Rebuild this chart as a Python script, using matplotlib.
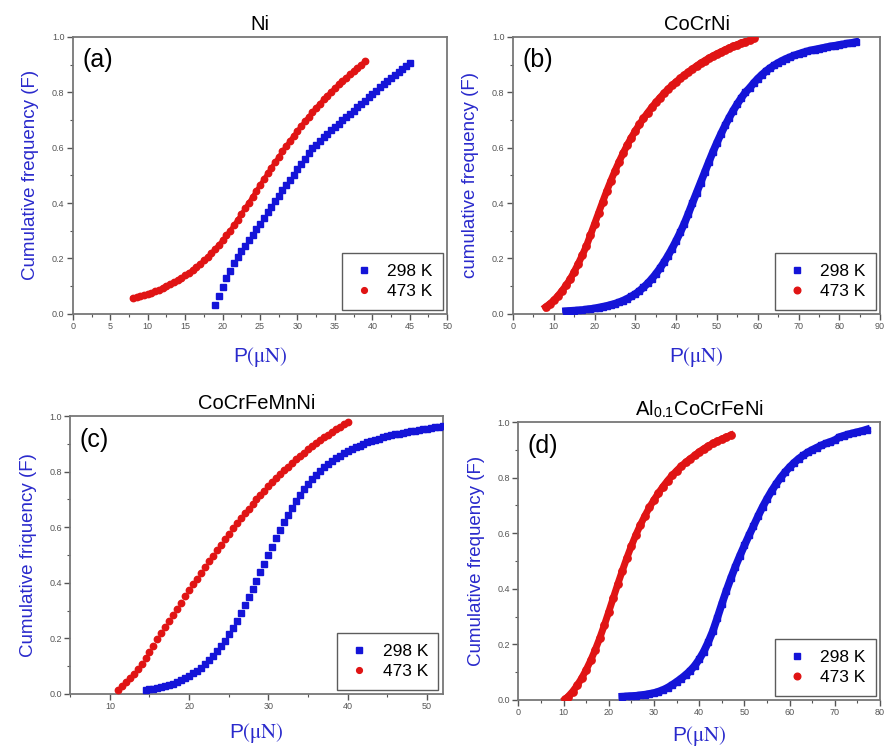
import matplotlib.pyplot as plt
from matplotlib.ticker import MultipleLocator

plt.rcParams['font.family'] = ['Liberation Sans', 'DejaVu Sans']
plt.rcParams['mathtext.fontset'] = 'stix'

# (a) Ni
a_x_298 = [19.0, 19.5, 20.0, 20.5, 21.0, 21.5, 22.0, 22.5, 23.0, 23.5, 24.0, 24.5, 25.0, 25.5,
           26.0, 26.5, 27.0, 27.5, 28.0, 28.5, 29.0, 29.5, 30.0, 30.5, 31.0, 31.5, 32.0, 32.5,
           33.0, 33.5, 34.0, 34.5, 35.0, 35.5, 36.0, 36.5, 37.0, 37.5, 38.0, 38.5, 39.0, 39.5,
           40.0, 40.5, 41.0, 41.5, 42.0, 42.5, 43.0, 43.5, 44.0, 44.5, 45.0]
a_f_298 = [0.032, 0.066, 0.098, 0.128, 0.156, 0.182, 0.206, 0.226, 0.246, 0.266, 0.286, 0.306, 0.326, 0.346,
           0.366, 0.386, 0.406, 0.427, 0.446, 0.465, 0.484, 0.503, 0.522, 0.541, 0.560, 0.579, 0.598, 0.611,
           0.624, 0.637, 0.650, 0.662, 0.674, 0.686, 0.698, 0.710, 0.722, 0.734, 0.746, 0.758, 0.770, 0.782,
           0.794, 0.806, 0.818, 0.829, 0.840, 0.851, 0.862, 0.873, 0.884, 0.895, 0.906]
a_x_473 = [8.0, 8.5, 9.0, 9.5, 10.0, 10.5, 11.0, 11.5, 12.0, 12.5, 13.0, 13.5, 14.0, 14.5, 15.0, 15.5,
           16.0, 16.5, 17.0, 17.5, 18.0, 18.5, 19.0, 19.5, 20.0, 20.5, 21.0, 21.5, 22.0, 22.5, 23.0, 23.5,
           24.0, 24.5, 25.0, 25.5, 26.0, 26.5, 27.0, 27.5, 28.0, 28.5, 29.0, 29.5, 30.0, 30.5, 31.0, 31.5,
           32.0, 32.5, 33.0, 33.5, 34.0, 34.5, 35.0, 35.5, 36.0, 36.5, 37.0, 37.5, 38.0, 38.5, 39.0]
a_f_473 = [0.058, 0.061, 0.064, 0.068, 0.072, 0.077, 0.082, 0.088, 0.094, 0.100, 0.107, 0.114, 0.122, 0.130, 0.139, 0.149,
           0.159, 0.170, 0.181, 0.193, 0.206, 0.220, 0.235, 0.250, 0.266, 0.283, 0.301, 0.320, 0.340, 0.360, 0.381, 0.402,
           0.423, 0.444, 0.465, 0.486, 0.507, 0.527, 0.547, 0.567, 0.587, 0.606, 0.625, 0.643, 0.661, 0.678, 0.695, 0.712,
           0.728, 0.744, 0.759, 0.774, 0.788, 0.802, 0.815, 0.828, 0.840, 0.852, 0.864, 0.875, 0.886, 0.898, 0.912]

# (b) CoCrNi
b_x_298 = [13, 14, 15, 16, 17, 18, 19, 20, 21, 22, 23, 24, 25, 26, 27, 28, 29, 30, 31, 32, 33, 34, 35, 36,
           37, 38, 39, 40, 41, 42, 43, 44, 45, 46, 47, 48, 49, 50, 51, 52, 53, 54, 55, 56, 57, 58, 59, 60,
           61, 62, 63, 64, 65, 66, 67, 68, 69, 70, 71, 72, 73, 74, 75, 76, 77, 78, 79, 80, 81, 82, 83, 84]
b_f_298 = [0.010, 0.011, 0.012, 0.013, 0.014, 0.016, 0.018, 0.020, 0.023, 0.026, 0.029, 0.033, 0.037, 0.042,
           0.048, 0.055, 0.063, 0.072, 0.083, 0.096, 0.110, 0.126, 0.144, 0.164, 0.186, 0.210, 0.236, 0.264,
           0.294, 0.326, 0.362, 0.400, 0.437, 0.474, 0.511, 0.548, 0.584, 0.618, 0.650, 0.680, 0.708, 0.734,
           0.758, 0.780, 0.800, 0.815, 0.833, 0.849, 0.863, 0.876, 0.887, 0.897, 0.906, 0.914, 0.921, 0.927,
           0.933, 0.938, 0.943, 0.947, 0.951, 0.954, 0.957, 0.960, 0.963, 0.966, 0.968, 0.971, 0.973, 0.976,
           0.978, 0.981]
b_x_473 = [8, 9, 10, 11, 12, 13, 14, 15, 16, 17, 18, 19, 20, 21, 22, 23, 24, 25, 26, 27, 28, 29, 30, 31,
           32, 33, 34, 35, 36, 37, 38, 39, 40, 41, 42, 43, 44, 45, 46, 47, 48, 49, 50, 51, 52, 53, 54, 55,
           56, 57, 58, 59]
b_f_473 = [0.025, 0.036, 0.049, 0.065, 0.083, 0.103, 0.125, 0.152, 0.181, 0.212, 0.245, 0.285, 0.325, 0.365,
           0.405, 0.444, 0.481, 0.516, 0.549, 0.580, 0.609, 0.636, 0.661, 0.684, 0.706, 0.726, 0.745, 0.763,
           0.780, 0.796, 0.811, 0.825, 0.838, 0.850, 0.862, 0.873, 0.884, 0.895, 0.905, 0.914, 0.923, 0.931,
           0.939, 0.946, 0.953, 0.960, 0.966, 0.972, 0.978, 0.983, 0.989, 0.994]

# (c) CoCrFeMnNi
c_x_298 = [14.5, 15.0, 15.5, 16.0, 16.5, 17.0, 17.5, 18.0, 18.5, 19.0, 19.5, 20.0, 20.5, 21.0, 21.5, 22.0,
           22.5, 23.0, 23.5, 24.0, 24.5, 25.0, 25.5, 26.0, 26.5, 27.0, 27.5, 28.0, 28.5, 29.0, 29.5, 30.0,
           30.5, 31.0, 31.5, 32.0, 32.5, 33.0, 33.5, 34.0, 34.5, 35.0, 35.5, 36.0, 36.5, 37.0, 37.5, 38.0,
           38.5, 39.0, 39.5, 40.0, 40.5, 41.0, 41.5, 42.0, 42.5, 43.0, 43.5, 44.0, 44.5, 45.0, 45.5, 46.0,
           46.5, 47.0, 47.5, 48.0, 48.5, 49.0, 49.5, 50.0, 50.5, 51.0, 51.5, 52.0]
c_f_298 = [0.015, 0.017, 0.019, 0.021, 0.024, 0.027, 0.031, 0.036, 0.042, 0.049, 0.057, 0.065, 0.074, 0.084, 0.095, 0.107,
           0.121, 0.136, 0.153, 0.172, 0.192, 0.214, 0.238, 0.264, 0.291, 0.319, 0.348, 0.378, 0.408, 0.438, 0.469, 0.500,
           0.530, 0.560, 0.589, 0.617, 0.644, 0.670, 0.694, 0.716, 0.736, 0.755, 0.772, 0.788, 0.802, 0.815, 0.827, 0.838,
           0.848, 0.857, 0.866, 0.874, 0.881, 0.888, 0.894, 0.900, 0.905, 0.910, 0.915, 0.919, 0.923, 0.927, 0.931, 0.934,
           0.937, 0.940, 0.943, 0.946, 0.948, 0.951, 0.953, 0.955, 0.957, 0.959, 0.961, 0.963]
c_x_473 = [11.0, 11.5, 12.0, 12.5, 13.0, 13.5, 14.0, 14.5, 15.0, 15.5, 16.0, 16.5, 17.0, 17.5, 18.0, 18.5,
           19.0, 19.5, 20.0, 20.5, 21.0, 21.5, 22.0, 22.5, 23.0, 23.5, 24.0, 24.5, 25.0, 25.5, 26.0, 26.5,
           27.0, 27.5, 28.0, 28.5, 29.0, 29.5, 30.0, 30.5, 31.0, 31.5, 32.0, 32.5, 33.0, 33.5, 34.0, 34.5,
           35.0, 35.5, 36.0, 36.5, 37.0, 37.5, 38.0, 38.5, 39.0, 39.5, 40.0]
c_f_473 = [0.015, 0.028, 0.042, 0.057, 0.073, 0.090, 0.108, 0.129, 0.151, 0.174, 0.197, 0.219, 0.241, 0.263, 0.285, 0.307,
           0.329, 0.351, 0.373, 0.394, 0.415, 0.436, 0.457, 0.477, 0.497, 0.517, 0.537, 0.557, 0.577, 0.596, 0.614, 0.632,
           0.650, 0.667, 0.684, 0.700, 0.716, 0.732, 0.747, 0.762, 0.777, 0.791, 0.805, 0.818, 0.831, 0.844, 0.856, 0.868,
           0.880, 0.891, 0.902, 0.913, 0.923, 0.933, 0.943, 0.952, 0.961, 0.970, 0.979]

# (d) Al0.1CoCrFeNi
d_x_298 = [23, 24, 25, 26, 27, 28, 29, 30, 31, 32, 33, 34, 35, 36, 37, 38, 39, 40, 41, 42, 43, 44, 45, 46,
           47, 48, 49, 50, 51, 52, 53, 54, 55, 56, 57, 58, 59, 60, 61, 62, 63, 64, 65, 66, 67, 68, 69, 70,
           71, 72, 73, 74, 75, 76, 77]
d_f_298 = [0.012, 0.013, 0.014, 0.015, 0.017, 0.019, 0.022, 0.025, 0.030, 0.036, 0.044, 0.054, 0.065, 0.077,
           0.090, 0.105, 0.123, 0.146, 0.174, 0.208, 0.247, 0.295, 0.345, 0.393, 0.438, 0.480, 0.519, 0.556,
           0.592, 0.626, 0.661, 0.694, 0.724, 0.752, 0.777, 0.800, 0.820, 0.838, 0.854, 0.868, 0.880, 0.891,
           0.900, 0.908, 0.916, 0.923, 0.929, 0.935, 0.946, 0.951, 0.956, 0.960, 0.964, 0.968, 0.973]
d_x_473 = [10.3, 11, 12, 13, 14, 15, 16, 17, 18, 19, 20, 21, 22, 23, 24, 25, 26, 27, 28, 29, 30, 31, 32,
           33, 34, 35, 36, 37, 38, 39, 40, 41, 42, 43, 44, 45, 46, 47]
d_f_473 = [0.002, 0.012, 0.030, 0.052, 0.078, 0.108, 0.142, 0.180, 0.222, 0.268, 0.317, 0.367, 0.417, 0.465,
           0.511, 0.554, 0.594, 0.630, 0.663, 0.693, 0.720, 0.745, 0.768, 0.789, 0.808, 0.825, 0.841, 0.855,
           0.868, 0.880, 0.893, 0.904, 0.914, 0.923, 0.931, 0.939, 0.946, 0.953]

titles = ['Ni', 'CoCrNi', 'CoCrFeMnNi', r'Al$_{\mathregular{0.1}}$CoCrFeNi']
tags = ['(a)', '(b)', '(c)', '(d)']
ylabels = ['Cumulative frequency (F)', 'cumulative frequency (F)',
           'Cumulative friquency (F)', 'Cumulative frequency (F)']

blue = '#1414d8'
red = '#e01414'
label_blue = '#2a2acc'

fig = plt.figure(figsize=(8.89, 7.51), dpi=100)
positions = [[0.082, 0.582, 0.421, 0.369], [0.577, 0.582, 0.413, 0.369],
             [0.079, 0.076, 0.419, 0.370], [0.583, 0.068, 0.407, 0.370]]
xlims = [(0, 50), (0, 90), (5, 52), (0, 80)]
xmajor = [5, 10, 10, 10]
xlabelpads = [10, 10, 7, 5]
series = [(a_x_298, a_f_298, a_x_473, a_f_473),
          (b_x_298, b_f_298, b_x_473, b_f_473),
          (c_x_298, c_f_298, c_x_473, c_f_473),
          (d_x_298, d_f_298, d_x_473, d_f_473)]
# dense curves (b, d) get a line under the markers
joined_298 = [False, True, False, True]
joined_473 = [True, True, False, True]

for i in range(4):
    ax = fig.add_axes(positions[i])
    x1, f1, x2, f2 = series[i]
    ms = 4.3 if i in (0, 2) else 5.0
    if joined_298[i]:
        ax.plot(x1, f1, '-', color=blue, lw=5.5, zorder=2)
    if joined_473[i]:
        ax.plot(x2, f2, '-', color=red, lw=5.0 if i != 0 else 3.0, zorder=2)
    ax.plot(x1, f1, 's', color=blue, ms=ms, mec=blue, label='298 K', zorder=3)
    ax.plot(x2, f2, 'o', color=red, ms=ms + 0.3, mec=red, label='473 K', zorder=3)

    ax.set_xlim(*xlims[i])
    ax.set_ylim(0, 1.0)
    ax.xaxis.set_major_locator(MultipleLocator(xmajor[i]))
    ax.xaxis.set_minor_locator(MultipleLocator(xmajor[i] / 2))
    ax.yaxis.set_major_locator(MultipleLocator(0.2))
    ax.yaxis.set_minor_locator(MultipleLocator(0.1))
    ax.yaxis.set_major_formatter(plt.FuncFormatter(lambda v, p: '%.1f' % v))
    ax.tick_params(which='major', direction='out', length=4, width=1, color='#555555',
                   labelsize=6.5, labelcolor='#555555', pad=2)
    ax.tick_params(which='minor', direction='out', length=2, width=0.8, color='#555555')
    for s in ax.spines.values():
        s.set_color('#777777')
        s.set_linewidth(1.3)

    ax.set_title(titles[i], fontsize=14.5, pad=5)
    ax.text(0.025, 0.915, tags[i], transform=ax.transAxes, fontsize=18,
            ha='left', va='center')
    ax.set_ylabel(ylabels[i], color=label_blue, fontsize=13.5, labelpad=9)
    ax.set_xlabel(r'P$\mathrm{(μN)}$', color=label_blue, fontsize=15, labelpad=xlabelpads[i])

    leg = ax.legend(loc='lower right', bbox_to_anchor=(1.0, 0.0), fontsize=12.5,
                    fancybox=False, edgecolor='#333333', handlelength=1.3,
                    handletextpad=0.7, borderpad=0.6, labelspacing=0.3,
                    borderaxespad=0.25, markerscale=0.9)
    leg.get_frame().set_linewidth(1.0)

plt.savefig('out.png', dpi=100)
